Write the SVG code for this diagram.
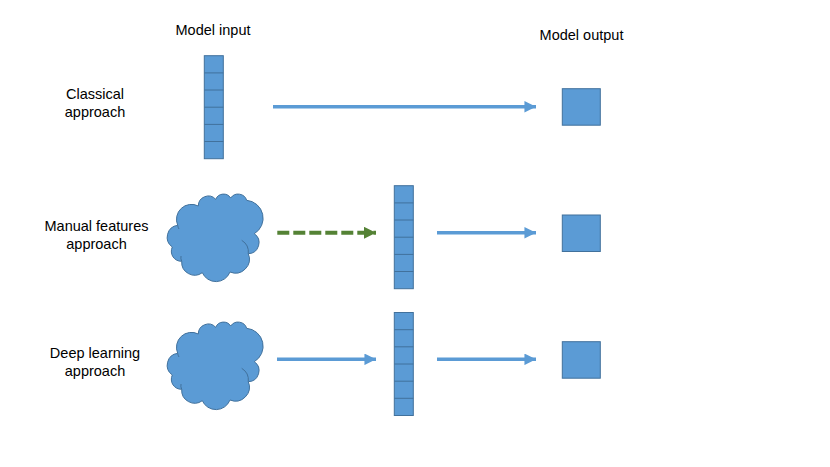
<svg xmlns="http://www.w3.org/2000/svg" width="830" height="467" viewBox="0 0 830 467">
<defs>
<style>
.lbl{font-family:"Liberation Sans",Arial,sans-serif;font-size:14.5px;fill:#000;text-anchor:middle}
.box{fill:#5B9BD5;stroke:#41719C;stroke-width:1}
.cell{stroke:#41719C;stroke-width:1}
.arr{fill:none;stroke:#5B9BD5;stroke-width:3.5}
.dash{fill:none;stroke:#548235;stroke-width:4;stroke-dasharray:12 4}
.inner{fill:none;stroke:#41719C;stroke-width:1}
</style>
<marker id="ahb" viewBox="0 0 10 10" refX="10" refY="5" markerWidth="3.3" markerHeight="3.3" orient="auto" markerUnits="strokeWidth">
<path d="M0,0 L10,5 L0,10 z" fill="#5B9BD5"/>
</marker>
<marker id="ahg" viewBox="0 0 10 10" refX="10" refY="5" markerWidth="3" markerHeight="3" orient="auto" markerUnits="strokeWidth">
<path d="M0,0 L10,5 L0,10 z" fill="#548235"/>
</marker>
<g id="cloudShape">
<path class="box" d="M8.7,29.3 A15,15 0 0 1 29.3,10 A10,10 0 0 1 46.7,3.3 A8.5,8.5 0 0 1 61.7,2 A9,9 0 0 1 77.7,4.3 A18,18 0 0 1 85.3,37.7 A11,11 0 0 1 79.3,57.7 A14,14 0 0 1 61,76 A15,15 0 0 1 33.3,76.7 A13,13 0 0 1 12.7,65.3 A10,10 0 0 1 3.3,51 A12,12 0 0 1 8.7,29.3 Z"/>
<path class="inner" d="M72.7,44.3 A14,14 0 0 1 79.3,57.7"/>
<path class="inner" d="M8.7,29.3 A9,9 0 0 0 10,33"/>
<path class="inner" d="M12.7,65.3 A8,8 0 0 1 12,60"/>
</g>
<g id="vec">
<rect class="box" x="0" y="0" width="19" height="103"/>
<path class="cell" d="M0,17.2H19M0,34.3H19M0,51.5H19M0,68.7H19M0,85.8H19"/>
</g>
</defs>

<g id="labels">
<text class="lbl" x="213" y="35.3">Model input</text>
<text class="lbl" x="581.5" y="40.3">Model output</text>
</g>

<g id="row1-label"><text class="lbl" x="95" y="99">Classical</text><text class="lbl" x="95" y="117">approach</text></g>
<g id="row2-label"><text class="lbl" x="96.5" y="230.5">Manual features</text><text class="lbl" x="96.5" y="249">approach</text></g>
<g id="row3-label"><text class="lbl" x="95" y="357.5">Deep learning</text><text class="lbl" x="95" y="376">approach</text></g>

<g id="input-vector-1"><use href="#vec" x="204.3" y="55.7"/></g>
<g id="cloud-2"><use href="#cloudShape" x="169" y="196"/></g>
<g id="cloud-3"><use href="#cloudShape" x="169" y="324"/></g>
<g id="feature-vector-2"><use href="#vec" x="394.3" y="185.7"/></g>
<g id="feature-vector-3"><use href="#vec" x="394.3" y="312.5"/></g>
<g id="output-1"><rect class="box" x="562.3" y="88.7" width="38" height="36.5"/></g>
<g id="output-2"><rect class="box" x="562.3" y="215" width="38" height="36.5"/></g>
<g id="output-3"><rect class="box" x="562.3" y="341.7" width="38" height="36.5"/></g>

<g id="connectors">
<line class="arr" x1="273" y1="106.8" x2="536" y2="106.8" marker-end="url(#ahb)"/>
<line class="dash" x1="277.3" y1="232.8" x2="376" y2="232.8" marker-end="url(#ahg)"/>
<line class="arr" x1="437" y1="232.8" x2="536" y2="232.8" marker-end="url(#ahb)"/>
<line class="arr" x1="277" y1="359.3" x2="376" y2="359.3" marker-end="url(#ahb)"/>
<line class="arr" x1="437" y1="359.3" x2="536" y2="359.3" marker-end="url(#ahb)"/>
</g>
</svg>
